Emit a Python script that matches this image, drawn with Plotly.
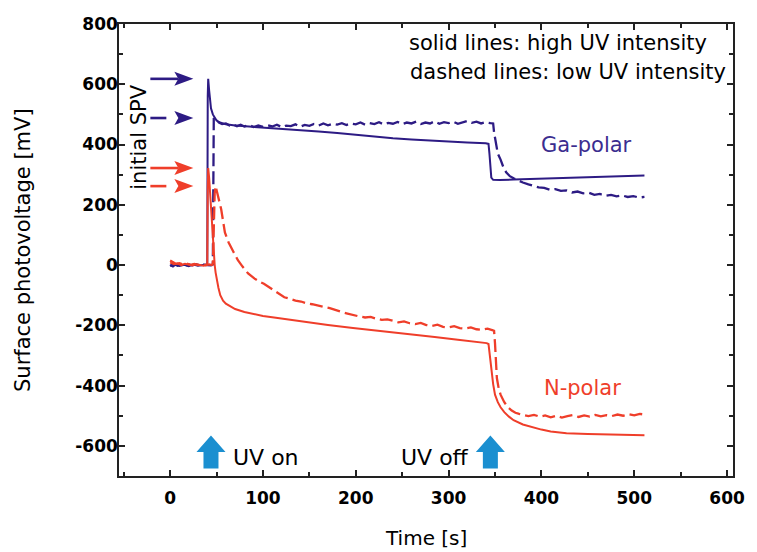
import plotly.graph_objects as go

# ---------------- data ----------------
ga_solid_t = [0, 3, 6, 10, 15, 20, 25, 30, 35, 39, 40, 40.5, 41, 42, 43, 44, 46, 48, 50, 53, 56, 60, 70, 80, 90, 100,
              120, 140, 160, 180, 200, 220, 240, 260, 280, 300, 320, 340, 343, 344, 345, 346, 348, 355, 370, 390, 410,
              430, 450, 470, 490, 511]
ga_solid_v = [0, -5, 2, -3, 1, -4, 2, -2, 0, 1, 2, 560, 618, 580, 545, 520, 500, 488, 480, 474, 470, 467, 463, 461, 459,
              457, 452, 448, 443, 438, 432, 426, 421, 417, 413, 410, 407, 404, 402, 370, 320, 290, 283, 282, 284, 286,
              288, 290, 292, 294, 296, 297]

ga_dash_t = [0, 4, 8, 12, 16, 20, 24, 28, 32, 36, 40, 44, 46, 46.5, 47, 48, 50, 53, 56, 60, 64, 68, 72, 76, 80, 85, 90,
             95, 100, 105, 110, 115, 120, 125, 130, 135, 140, 145, 150, 155, 160, 165, 170, 175, 180, 185, 190, 195,
             200, 205, 210, 215, 220, 225, 230, 235, 240, 245, 250, 255, 260, 265, 270, 275, 280, 285, 290, 295, 300,
             305, 310, 315, 320, 325, 330, 335, 340, 345, 348, 349, 351, 353, 356, 359, 362, 366, 370, 375, 380, 386,
             391, 397, 403, 409, 415, 421, 427, 433, 439, 445, 451, 457, 463, 469, 475, 481, 487, 493, 499, 505, 511]
ga_dash_v = [-3, 4, -2, 3, -4, 2, -1, 3, -2, 1, 0, -1, 2, 300, 488, 484, 478, 472, 468, 470, 463, 467, 461, 466, 460,
             465, 458, 463, 459, 464, 460, 466, 458, 463, 461, 467, 459, 465, 462, 468, 463, 470, 464, 469, 466, 471,
             465, 470, 467, 473, 466, 471, 468, 474, 467, 472, 469, 475, 468, 473, 470, 476, 468, 473, 470, 477, 469,
             474, 471, 476, 469, 473, 478, 472, 476, 470, 474, 471, 470, 440, 400, 370, 350, 325, 308, 295, 288, 280,
             274, 268, 264, 258, 256, 250, 252, 246, 248, 241, 244, 238, 240, 233, 236, 230, 233, 228, 231, 226, 229,
             224, 226]

n_solid_t = [0, 4, 8, 12, 16, 20, 24, 28, 32, 36, 39, 40, 40.5, 41, 42, 43, 44, 45, 46, 47, 48, 49, 50, 52, 54, 57, 60,
             65, 70, 80, 90, 100, 112, 125, 147, 170, 197, 222, 250, 285, 310, 330, 341, 343, 344, 346, 348, 350, 353,
             356, 360, 365, 370, 380, 391, 400, 410, 427, 450, 475, 495, 511]
n_solid_v = [8, 3, 5, 0, 4, 2, -1, 3, 1, -2, 2, 5, 250, 322, 290, 240, 190, 130, 80, 35, 0, -25, -45, -75, -100, -118,
             -128, -138, -146, -156, -163, -169, -174, -180, -190, -199, -209, -217, -226, -239, -248, -254, -259,
             -262, -290, -340, -395, -430, -455, -472, -488, -503, -515, -529, -539, -546, -552, -558, -561, -563,
             -564, -565]

n_dash_t = [0, 3, 6, 10, 14, 18, 22, 26, 30, 34, 38, 42, 45, 46, 47, 48, 49, 50, 52, 55, 59, 63, 68, 73, 78, 84, 91, 96,
            101, 106, 112, 118, 123, 129, 135, 141, 147, 153, 160, 166, 172, 178, 184, 190, 197, 203, 210, 216, 222,
            228, 234, 240, 246, 252, 258, 264, 270, 276, 282, 288, 294, 300, 306, 312, 318, 324, 330, 336, 342, 347,
            349, 350, 351, 352, 354, 356, 360, 364, 368, 372, 376, 381, 386, 392, 398, 404, 410, 416, 422, 428, 434,
            440, 446, 452, 458, 464, 470, 476, 482, 488, 494, 500, 506, 511]
n_dash_v = [15, 8, 4, 6, 2, 5, 1, 4, 0, 3, -1, 2, 0, 5, 150, 240, 262, 250, 225, 185, 108, 75, 45, 16, -5, -28, -45,
            -55, -62, -72, -85, -98, -107, -112, -118, -121, -127, -130, -136, -139, -143, -150, -155, -160, -166,
            -170, -174, -172, -178, -182, -180, -186, -190, -187, -193, -196, -192, -199, -202, -198, -205, -207,
            -203, -209, -211, -207, -213, -215, -211, -216, -218, -260, -330, -375, -410, -430, -455, -472, -483,
            -490, -494, -498, -501, -497, -503, -499, -505, -500, -506, -501, -498, -504, -499, -503, -497, -502,
            -498, -501, -496, -500, -495, -499, -494, -496]

uv_on_time = 44
uv_off_time = 345

x_ticks = [0, 100, 200, 300, 400, 500, 600]
y_ticks = [-600, -400, -200, 0, 200, 400, 600, 800]
x_tick_text = [str(v) for v in x_ticks]
y_tick_text = [str(v) for v in y_ticks]   # plain hyphen-minus as in the original

# ---------------- styles ----------------
INDIGO = "#2d1b84"
RED = "#ef3e2a"
BLUE = "#1b8fd0"
FONT = "DejaVu Sans"

fig = go.Figure()
fig.add_trace(go.Scatter(x=ga_solid_t, y=ga_solid_v, mode="lines", line=dict(color=INDIGO, width=2)))
fig.add_trace(go.Scatter(x=ga_dash_t, y=ga_dash_v, mode="lines", line=dict(color=INDIGO, width=2.3, dash="13px,5px")))
fig.add_trace(go.Scatter(x=n_solid_t, y=n_solid_v, mode="lines", line=dict(color=RED, width=2)))
fig.add_trace(go.Scatter(x=n_dash_t, y=n_dash_v, mode="lines", line=dict(color=RED, width=2.3, dash="13px,5px")))

shapes = []
# blue block arrows (UV on / off) anchored at their times, on the bottom of the plot
block = "M -7.5,7.5 L 7.5,7.5 L 7.5,24 L 14.5,24 L 0,40.5 L -14.5,24 L -7.5,24 Z"
for t in (uv_on_time, uv_off_time):
    shapes.append(dict(type="path", xref="x", yref="y", xsizemode="pixel", ysizemode="pixel",
                       xanchor=t, yanchor=-700, path=block, fillcolor=BLUE, line=dict(width=0)))

# "initial SPV" arrows pointing at the peak of each curve
head = "M 0,0 L -19,7 L -15,0 L -19,-7 Z"
spv = [(max(ga_solid_v), INDIGO, False), (max(ga_dash_v), INDIGO, True),
       (max(n_solid_v), RED, False), (max(n_dash_v), RED, True)]
tip_t = 25
for val, col, dashed in spv:
    shapes.append(dict(type="path", xref="x", yref="y", xsizemode="pixel", ysizemode="pixel",
                       xanchor=tip_t, yanchor=val, path=head, fillcolor=col, line=dict(width=0)))
    x1 = -27 if dashed else -15
    shapes.append(dict(type="line", xref="x", yref="y", xsizemode="pixel", ysizemode="pixel",
                       xanchor=tip_t, yanchor=val, x0=-43, x1=x1, y0=0, y1=0,
                       line=dict(color=col, width=2.6)))

annotations = [
    dict(text="solid lines: high UV intensity", x=255.6, y=737, xanchor="left", yanchor="middle",
         font=dict(size=21, color="black")),
    dict(text="dashed lines: low UV intensity", x=256.6, y=640, xanchor="left", yanchor="middle",
         font=dict(size=21, color="black")),
    dict(text="Ga-polar", x=448.6, y=398, xanchor="center", yanchor="middle", font=dict(size=21, color="#3b2d8f")),
    dict(text="N-polar", x=444, y=-409, xanchor="center", yanchor="middle", font=dict(size=21, color=RED)),
    dict(text="UV on", x=65.7, y=-639, xanchor="left", yanchor="middle", font=dict(size=22, color="black")),
    dict(text="UV off", x=324, y=-638, xanchor="right", yanchor="middle", font=dict(size=22, color="black")),
    dict(text="initial SPV", x=-32.9, y=424.6, xanchor="center", yanchor="middle", textangle=-90,
         font=dict(size=21, color="black")),
    dict(text="Surface photovoltage [mV]", xref="paper", yref="paper", x=0, y=0.5, xshift=-96,
         xanchor="center", yanchor="middle", textangle=-90, font=dict(size=21, color="black")),
    dict(text="Time [s]", xref="paper", yref="paper", x=0.5, y=0, yshift=-62,
         xanchor="center", yanchor="middle", font=dict(size=20, color="black")),
]
for a in annotations:
    a.setdefault("showarrow", False)
    a.setdefault("xref", "x")
    a.setdefault("yref", "y")

axis_common = dict(showline=True, linecolor="#222", linewidth=1.5, mirror="ticks", ticks="inside",
                   ticklen=6, tickwidth=1.5, tickcolor="#222", showgrid=False, zeroline=False,
                   tickfont=dict(family=FONT, size=17, color="black", weight="bold"))

fig.update_layout(
    width=757, height=552, margin=dict(l=119, r=14, t=24, b=76),
    paper_bgcolor="white", plot_bgcolor="white", showlegend=False,
    font=dict(family=FONT, color="black"),
    shapes=shapes, annotations=annotations,
    xaxis=dict(range=[-55.1, 606.4], tickvals=x_ticks, ticktext=x_tick_text, ticklabelstandoff=6,
               minor=dict(dtick=50, tick0=0, ticks="inside", ticklen=4, tickwidth=1.5, tickcolor="#222"),
               **axis_common),
    yaxis=dict(range=[-700, 800], tickvals=y_ticks, ticktext=y_tick_text, ticklabelstandoff=-4,
               minor=dict(dtick=100, tick0=0, ticks="inside", ticklen=4, tickwidth=1.5, tickcolor="#222"),
               **axis_common),
)

fig.write_html("out.html")
